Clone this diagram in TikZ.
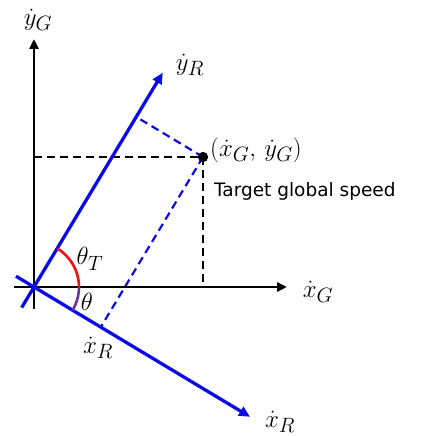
\documentclass[tikz,border=0pt]{standalone}
\usepackage{fontspec}
\usetikzlibrary{arrows.meta,calc,positioning}
\newfontfamily\notefont{DejaVu Sans}
\definecolor{AxisBlue}{HTML}{0A0AE6}
\definecolor{AngleRed}{HTML}{F01010}
\definecolor{AnglePurple}{HTML}{7030A0}
\tikzset{
  globalaxis/.style={line width=2.6pt, draw=black, -{Triangle[length=10pt,width=9pt]}},
  robotaxis/.style={line width=3.3pt, draw=AxisBlue, -{Triangle[length=11pt,width=10pt]}},
  guide/.style={line width=2pt, draw=black, dash pattern=on 8pt off 5pt},
  bluguide/.style={line width=2.2pt, draw=AxisBlue, dash pattern=on 8pt off 5pt},
  mathlabel/.style={inner sep=1pt, font=\Huge},
  speedpoint/.style={circle, fill=black, minimum size=10pt, inner sep=0pt}
}

\begin{document}
\begin{tikzpicture}[x=1pt,y=1pt]
    \useasboundingbox (0,0) rectangle (421,436);
    % global frame
    \coordinate (O) at (34,149);
    \coordinate (xGtail) at (14,149);
    \coordinate (xGtip) at (287,149);
    \coordinate (yGtail) at (34,127);
    \coordinate (yGtip) at (34,397);
    % robot frame
    \coordinate (yRtail) at ($(O)+(239:24)$);
    \coordinate (yRtip) at ($(O)+(59:250)$);
    \coordinate (xRtail) at ($(O)+(149:21)$);
    \coordinate (xRtip) at ($(O)+(-31:252)$);
    \node[speedpoint] (P) at (203,279) {};
    \coordinate (Fy) at ($(O)!(P)!(yRtip)$);
    \coordinate (Fx) at ($(O)!(P)!(xRtip)$);
    \coordinate (Px) at (O -| P);
    \coordinate (Py) at (O |- P);
    % dashed guides
    \draw[guide] (Py)--(P.center);
    \draw[guide] (P.center)--(Px);
    \draw[bluguide] (P.center)--(Fy);
    \draw[bluguide] (P.center)--(Fx);
    % axes
    \draw[globalaxis] (xGtail)--(xGtip);
    \draw[globalaxis] (yGtail)--(yGtip);
    \draw[robotaxis] (yRtail)--(yRtip);
    \draw[robotaxis] (xRtail)--(xRtip);
    \node[speedpoint] at (P) {};
    % angles
    \draw[AngleRed, line width=2.6pt] ($(O)+(0:45)$) arc[start angle=0, end angle=59, radius=45];
    \draw[AnglePurple, line width=2.6pt] ($(O)+(0:45)$) arc[start angle=0, end angle=-31, radius=45];
    % labels
    \node[mathlabel] (yGlab) at (38,416) {$\dot{y}_G$};
    \node[mathlabel] (yRlab) at (190,371) {$\dot{y}_R$};
    \node[mathlabel] (xGlab) at (318,144) {$\dot{x}_G$};
    \node[mathlabel] (xRlab) at (280,14) {$\dot{x}_R$};
    \node[mathlabel, anchor=west] (Plab) at (209,286) {$(\dot{x}_G,\,\dot{y}_G)$};
    \node[anchor=west, inner sep=1pt, font=\notefont\fontsize{18.5}{22}\selectfont] (note) at (213,245) {Target global speed};
    \node[mathlabel] (thTlab) at (90,177) {$\theta_T$};
    \node[mathlabel] (thlab) at (87,134) {$\theta$};
    \node[mathlabel] (xRfoot) at (98,88) {$\dot{x}_R$};
\end{tikzpicture}
\end{document}
